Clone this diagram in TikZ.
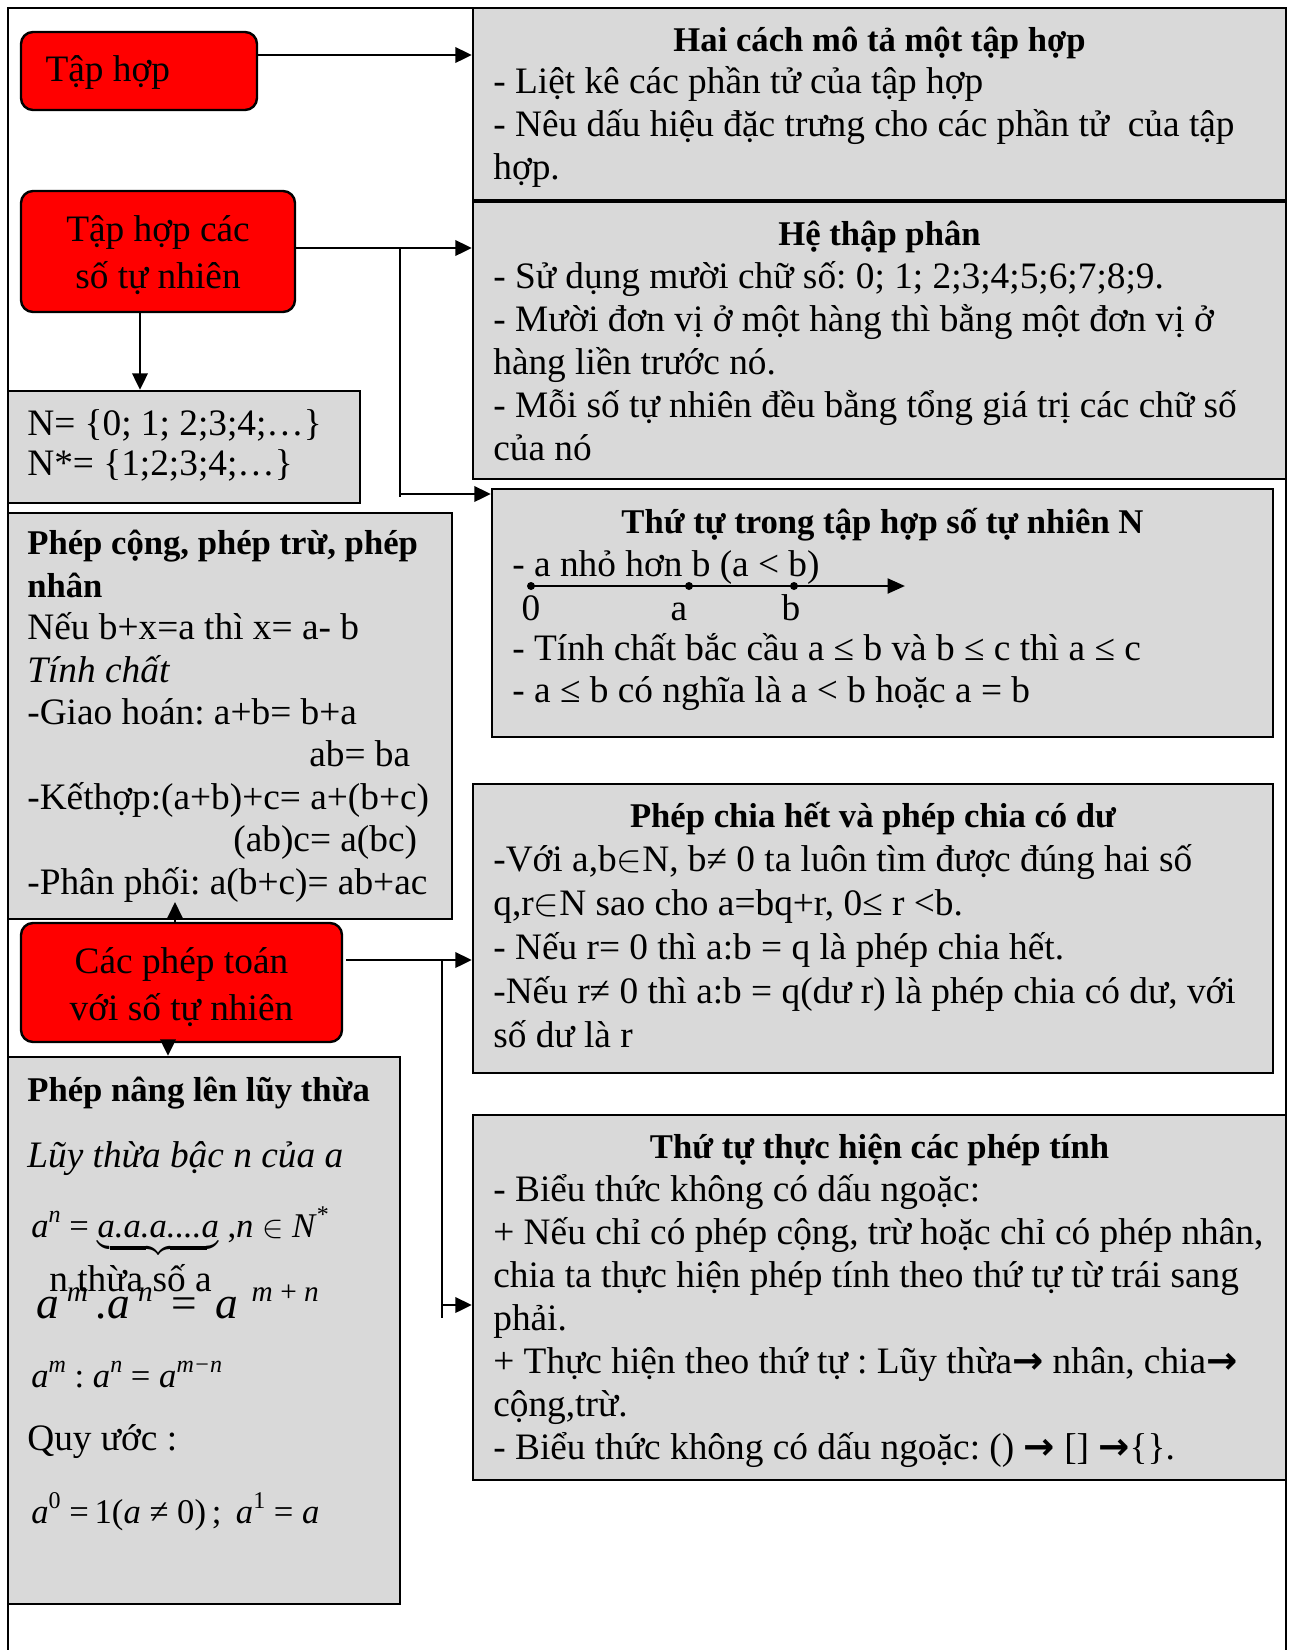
\documentclass[tikz,border=0pt]{standalone}
\usepackage{fontspec}
\setmainfont{Liberation Serif}
\newfontfamily\symfont{DejaVu Sans}
\usepackage{tikz}
\usetikzlibrary{positioning, arrows.meta, calc, fit}
\definecolor{panelgray}{HTML}{D9D9D9}
\definecolor{topicred}{HTML}{FF0000}
\newcommand{\pxu}{0.375pt}
\newcommand{\bodyfont}{\fontsize{14}{16.1}\selectfont}
\newcommand{\headfont}{\fontsize{13}{15}\selectfont\bfseries}
\newcommand{\supx}[1]{\raisebox{0.45em}{\fontsize{9}{10}\selectfont #1}}
\newcommand{\thenarrow}{{\symfont\bfseries →}}
\frenchspacing

\begin{document}
\begin{tikzpicture}[x=0.375pt, y=-0.375pt,
    panel/.style={draw, line width=0.9pt, inner sep=0pt, fill=panelgray},
    topic/.style={draw, line width=0.9pt, inner sep=0pt, fill=topicred, rounded corners=4.5pt},
    topictext/.style={align=center, inner sep=0pt, font=\fontsize{14}{17.6}\selectfont},
    head/.style={anchor=base, inner sep=0pt, font=\headfont},
    body/.style={anchor=base west, align=flush left, inner sep=0pt, font=\bodyfont},
    link/.style={line width=0.9pt},
    arr/.style={link, -{Triangle[length=6.2pt, width=5.8pt]}},
    tick/.style={circle, fill, inner sep=0pt, minimum size=3pt}]
  \useasboundingbox (0,0) rectangle (1291,1650);
  \draw[link] (8,1650) |- (1286,8) -- (1286,1650);

  % left column
  \node[topic, fit={(21,32) (257,110)}] (sets) {};
  \node[topictext, anchor=base west] (sets-t) at (45,81) {Tập hợp};
  \node[topic, fit={(21,191) (295,312)}] (natset) {};
  \node[topictext] (natset-t) at ($(natset.center)+(0,4)$) {Tập hợp các\\số tự nhiên};
  \node[panel, fit={(8,391) (360,503)}] (Nset) {};
  \node[body, text width=330*\pxu, font=\fontsize{14}{15}\selectfont] (Nset-b)
    at ($(Nset.north west)+(20,46)$) {N= \{0; 1; 2;3;4;…\}\\N*= \{1;2;3;4;…\}};
  \node[panel, fit={(8,513) (452,919)}] (addmul) {};
  \node[body, text width=430*\pxu, font=\fontsize{14}{15.9}\selectfont] (addmul-b)
    at ($(addmul.north west)+(20,43)$) {{\headfont Phép cộng, phép trừ, phép}\\{\headfont nhân}\\Nếu b+x=a thì x= a- b\\\textit{Tính chất}\\-Giao hoán: a+b= b+a\\\hspace*{105.75pt}ab= ba\\-Kếthợp:(a+b)+c= a+(b+c)\\\hspace*{77.25pt}(ab)c= a(bc)\\-Phân phối: a(b+c)= ab+ac};
  \node[topic, fit={(21,923) (342,1042)}] (ops) {};
  \node[topictext] (ops-t) at ($(ops.center)+(0,5)$) {Các phép toán\\với số tự nhiên};
  \node[panel, fit={(8,1057) (400,1604)}] (power) {};
  \node[body, font=\headfont] (power-t) at ($(power.north west)+(20,46)$) {Phép nâng lên lũy thừa};
  \node[body, font=\bodyfont\itshape] (power-def) at ($(power.north west)+(20,112)$) {Lũy thừa bậc n của a};
  \node[body, font=\fontsize{13}{15}\selectfont] (power-prod) at ($(power.north west)+(24,182)$)
    {\textit{a}\supx{\textit{n}} = $\underbrace{\hbox{\itshape a.a.a....a}}$ ,\textit{n} $\in$ \textit{N}\supx{*}};
  \node[body] (power-count) at ($(power.north west)+(42,236)$) {n thừa số a};
  \node[body, font=\fontsize{17}{20}\selectfont\itshape] (power-mul) at ($(power.north west)+(29,263)$)
    {a\hspace{3pt}\raisebox{6.5pt}{\fontsize{11}{13}\selectfont m}\hspace{3pt}.a\hspace{3pt}\raisebox{6.5pt}{\fontsize{11}{13}\selectfont n}\hspace{7pt}\upshape=\hspace{7pt}\itshape a\hspace{5pt}\raisebox{6.5pt}{\fontsize{11}{13}\selectfont m \upshape+\itshape\ n}};
  \node[body, font=\fontsize{13}{15}\selectfont] (power-div) at ($(power.north west)+(24,332)$)
    {\textit{a}\supx{\textit{m}} : \textit{a}\supx{\textit{n}} = \textit{a}\supx{\textit{m−n}}};
  \node[body] (power-rule) at ($(power.north west)+(20,395)$) {Quy ước :};
  \node[body, font=\fontsize{13}{15}\selectfont] (power-zero) at ($(power.north west)+(24,468)$)
    {\textit{a}\supx{0} =\,1(\textit{a} ≠ 0)\,;\, \textit{a}\supx{1} = \textit{a}};

  % right column
  \node[panel, fit={(473,8) (1286,200)}] (describe) {};
  \node[head] (describe-t) at ($(describe.north)+(0,45)$) {Hai cách mô tả một tập hợp};
  \node[body, text width=800*\pxu] (describe-b) at ($(describe.north west)+(21,87)$)
    {- Liệt kê các phần tử của tập hợp\\- Nêu dấu hiệu đặc trưng cho các phần tử\ \ của tập\\hợp.};
  \node[panel, fit={(473,202) (1286,479)}] (decimal) {};
  \node[head] (decimal-t) at ($(decimal.north)+(0,45)$) {Hệ thập phân};
  \node[body, text width=800*\pxu] (decimal-b) at ($(decimal.north west)+(21,88)$)
    {- Sử dụng mười chữ số: 0; 1; 2;3;4;5;6;7;8;9.\\- Mười đơn vị ở một hàng thì bằng một đơn vị ở\\hàng liền trước nó.\\- Mỗi số tự nhiên đều bằng tổng giá trị các chữ số\\của nó};
  \node[panel, fit={(492,489) (1273,737)}] (order) {};
  \node[head] (order-t) at ($(order.north)+(0,46)$) {Thứ tự trong tập hợp số tự nhiên N};
  \node[body] (order-lt) at ($(order.north west)+(21,89)$) {- a nhỏ hơn b (a < b)};
  \node[body, text width=770*\pxu, font=\fontsize{14}{15.75}\selectfont] (order-b)
    at ($(order.north west)+(21,173)$) {- Tính chất bắc cầu a ≤ b và b ≤ c thì a ≤ c\\- a ≤ b có nghĩa là a < b hoặc a = b};
  \node[tick] (d0) at (531,586) {};
  \node[tick] (da) at (689,586) {};
  \node[tick] (db) at (794,586) {};
  \coordinate (nlend) at (905,586);
  \draw[line width=1.1pt, -{Triangle[length=6.5pt, width=5.5pt]}] (d0.center) -- (nlend);
  \node[head, font=\bodyfont] (lab0) at (531,620) {0};
  \node[head, font=\bodyfont] (laba) at (679,620) {a};
  \node[head, font=\bodyfont] (labb) at (791,620) {b};
  \node[panel, fit={(473,784) (1273,1073)}] (division) {};
  \node[head] (division-t) at ($(division.north)+(0,45)$) {Phép chia hết và phép chia có dư};
  \node[body, text width=790*\pxu, font=\fontsize{14}{16.5}\selectfont] (division-b)
    at ($(division.north west)+(21,89)$) {-Với a,b$\in$N, b≠ 0 ta luôn tìm được đúng hai số\\q,r$\in$N sao cho a=bq+r, 0≤ r <b.\\- Nếu r= 0 thì a:b = q là phép chia hết.\\-Nếu r≠ 0 thì a:b = q(dư r) là phép chia có dư, với\\số dư là r};
  \node[panel, fit={(473,1115) (1286,1480)}] (precedence) {};
  \node[head] (precedence-t) at ($(precedence.north)+(0,45)$) {Thứ tự thực hiện các phép tính};
  \node[body, text width=805*\pxu] (precedence-b) at ($(precedence.north west)+(21,88)$)
    {- Biểu thức không có dấu ngoặc:\\+ Nếu chỉ có phép cộng, trừ hoặc chỉ có phép nhân,\\chia ta thực hiện phép tính theo thứ tự từ trái sang\\phải.\\+ Thực hiện theo thứ tự : Lũy thừa\thenarrow{} nhân, chia\thenarrow\\cộng,trừ.\\- Biểu thức không có dấu ngoặc: () \thenarrow{} [] \thenarrow\{\}.};

  % connectors
  \coordinate (jAB) at (0,55);
  \draw[arr] (sets.east |- jAB) -- (describe.west |- jAB);
  \coordinate (jC) at (400,248);
  \coordinate (jE) at (400,494);
  \draw[arr] (natset.east |- jC) -- (decimal.west |- jC);
  \draw[link] (jC) -- ($(jE)+(0,3)$);
  \draw[arr] (jE) -- (order.west |- jE);
  \coordinate (cF) at (140,0);
  \draw[arr] (natset.south -| cF) -- (Nset.north -| cF);
  \coordinate (cG) at (175,902);
  \draw[arr] (ops.north -| cG) -- (cG);
  \coordinate (cI) at (168,0);
  \draw[arr] (ops.south -| cI) -- (power.north -| cI);
  \coordinate (jJ) at (442,960);
  \coordinate (jK) at (442,1305);
  \draw[arr] ($(ops.east |- jJ)+(3,0)$) -- (division.west |- jJ);
  \draw[link] (jJ) -- ($(jK)+(0,13)$);
  \draw[arr] (jK) -- (precedence.west |- jK);
\end{tikzpicture}
\end{document}
